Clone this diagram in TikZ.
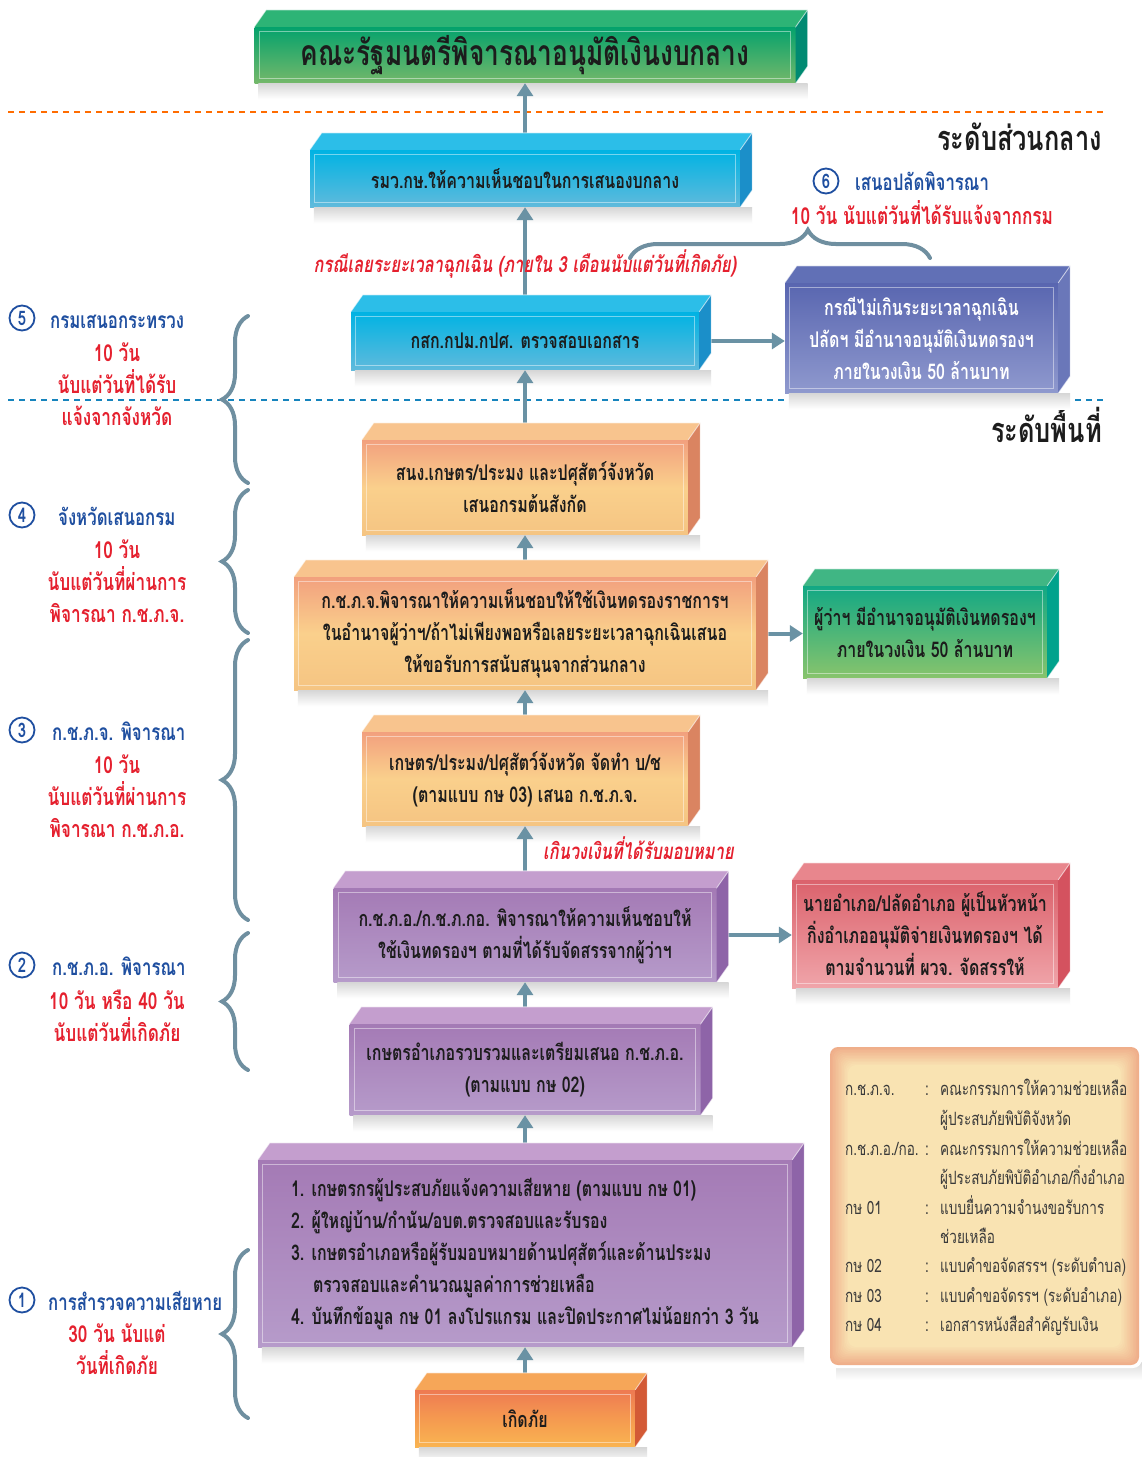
\documentclass[tikz,border=0pt]{standalone}
\usepackage{fontspec}
\newfontfamily\thai[Script=Thai,FakeStretch=0.74]{Loma}
\usetikzlibrary{arrows.meta,decorations.pathreplacing}
\definecolor{txtc}{HTML}{1C1C1C}
\definecolor{arrc}{HTML}{6A92A4}
\definecolor{bracec}{HTML}{6F8FA0}
\definecolor{bluec}{HTML}{1F4FA0}
\definecolor{redc}{HTML}{E5202E}
\definecolor{lgtxt}{HTML}{3A3A3A}
\definecolor{lgEdge}{HTML}{EFAE8A}
\definecolor{lgIn}{HTML}{F9E5B4}
% box colours
\definecolor{gA}{HTML}{04A26C}\definecolor{gB}{HTML}{74B86A}\definecolor{gT}{HTML}{2DB476}\definecolor{gS}{HTML}{008A72}
\definecolor{cA}{HTML}{00B3E3}\definecolor{cB}{HTML}{60BADC}\definecolor{cT}{HTML}{2CBEE8}\definecolor{cS}{HTML}{1B8FC9}
\definecolor{bA}{HTML}{5966B0}\definecolor{bB}{HTML}{8F99CE}\definecolor{bT}{HTML}{6170B6}\definecolor{bS}{HTML}{6A77B9}
\definecolor{oA}{HTML}{F2A07E}\definecolor{oM}{HTML}{FAD08C}\definecolor{oB}{HTML}{F5C482}\definecolor{oT}{HTML}{F8C48E}\definecolor{oS}{HTML}{DA8461}
\definecolor{hA}{HTML}{12A884}\definecolor{hB}{HTML}{88C46C}\definecolor{hT}{HTML}{40B684}\definecolor{hS}{HTML}{00A28C}
\definecolor{pA}{HTML}{A47AB5}\definecolor{pB}{HTML}{B69BCA}\definecolor{pT}{HTML}{C49ECE}\definecolor{pS}{HTML}{8E64A8}
\definecolor{rA}{HTML}{DB626C}\definecolor{rB}{HTML}{F0A5AA}\definecolor{rT}{HTML}{E8868D}\definecolor{rS}{HTML}{D4525F}
\definecolor{kA}{HTML}{EE7A52}\definecolor{kM}{HTML}{F59A50}\definecolor{kB}{HTML}{F9B451}\definecolor{kT}{HTML}{F6A658}\definecolor{kS}{HTML}{D35A36}
\newcommand\bxf{\thai\bfseries\fontsize{21.6}{32}\selectfont}
\newcommand\boxfaces[3]{%
  \fill[#2] (#1.north west) -- ++(12,-17) -- ([shift={(12,-17)}]#1.north east) -- (#1.north east) -- cycle;
  \fill[#3] (#1.north east) -- ([shift={(12,-17)}]#1.north east) -- ([shift={(12,-17)}]#1.south east) -- (#1.south east) -- cycle;
  \draw[white,opacity=.6,line width=.9pt] (#1.north west) -- ++(12,-17) -- ([shift={(12,-17)}]#1.north east) -- ([shift={(12,-17)}]#1.south east) -- (#1.south east);
  \draw[white,opacity=.6,line width=.9pt] (#1.north east) -- ([shift={(12,-17)}]#1.north east);
  \draw[white,opacity=.45,line width=1pt] ([shift={(5,5)}]#1.north west) rectangle ([shift={(-5,-5)}]#1.south east);
}
\newcommand\boxshadow[1]{%
  \shade[top color=black!16,bottom color=white] ([shift={(4,0)}]#1.south west) rectangle ([shift={(12,16)}]#1.south east);
}
\begin{document}
\begin{tikzpicture}[x=1pt,y=-1pt,
  bx/.style={inner sep=0pt, align=center, font=\bxf, text=txtc},
  arr/.style={draw=arrc, line width=4pt, -{Triangle[length=13pt,width=16pt]}},
  brc/.style={draw=bracec, line width=4pt, line cap=round, decorate, decoration={brace, amplitude=26pt}},
  circ/.style={circle, draw=bluec, line width=1.8pt, minimum size=25pt, inner sep=0pt, text=bluec, font=\thai\bfseries\fontsize{20}{20}\selectfont},
  blab/.style={anchor=base west, text=bluec, font=\thai\bfseries\fontsize{22.7}{24}\selectfont, inner sep=0pt},
  rlab/.style={anchor=base, text=redc, font=\thai\bfseries\fontsize{23.3}{24}\selectfont, inner sep=0pt},
  rnote/.style={anchor=base, text=redc, font=\thai\bfseries\itshape\fontsize{22.2}{24}\selectfont, inner sep=0pt},
  lg/.style={anchor=base west, text=lgtxt, font=\thai\fontsize{18.3}{20}\selectfont, inner sep=0pt},
  head/.style={anchor=base east, text=txtc, font=\thai\bfseries\fontsize{34.3}{36}\selectfont, inner sep=0pt}]
\useasboundingbox (0,0) rectangle (1142,1457);
\fill[white] (0,0) rectangle (1142,1457);

% separators
\draw[draw=orange!85!red, line width=2pt, dash pattern=on 6pt off 5pt] (8,112) -- (1105,112);
\draw[draw=bluec!70!cyan, line width=2pt, dash pattern=on 6pt off 5pt] (8,400) -- (1105,400);
\node[head] (lvl1) at (1102,150) {ระดับส่วนกลาง};
\node[head] (lvl2) at (1102,442) {ระดับพื้นที่};

% ---------- boxes (front faces)
\node[bx, minimum width=541pt, minimum height=56pt, top color=gA, bottom color=gB, font=\thai\bfseries\fontsize{35.5}{36}\selectfont] (green) at (525,55) {คณะรัฐมนตรีพิจารณาอนุมัติเงินงบกลาง};
\node[bx, minimum width=430pt, minimum height=57pt, top color=cA, bottom color=cB] (cyan1) at (525,178.5) {รมว.กษ.ให้ความเห็นชอบในการเสนองบกลาง};
\node[bx, minimum width=348pt, minimum height=58pt, top color=cA, bottom color=cB] (cyan2) at (525,341) {กสก.กปม.กปศ. ตรวจสอบเอกสาร};
\node[bx, minimum width=273pt, minimum height=110pt, top color=bA, bottom color=bB, text=white] (blue) at (921.5,338) {กรณีไม่เกินระยะเวลาฉุกเฉิน\\ปลัดฯ มีอำนาจอนุมัติเงินทดรองฯ\\ภายในวงเงิน 50 ล้านบาท};
\node[bx, minimum width=326pt, minimum height=95pt, top color=oA, bottom color=oB, middle color=oM] (ora1) at (525,487.5) {สนง.เกษตร/ประมง และปศุสัตว์จังหวัด\\เสนอกรมต้นสังกัด};
\node[bx, minimum width=462pt, minimum height=113pt, top color=oA, bottom color=oB, middle color=oM] (ora2) at (525,633.5) {ก.ช.ภ.จ.พิจารณาให้ความเห็นชอบให้ใช้เงินทดรองราชการฯ\\ในอำนาจผู้ว่าฯ/ถ้าไม่เพียงพอหรือเลยระยะเวลาฉุกเฉินเสนอ\\ให้ขอรับการสนับสนุนจากส่วนกลาง};
\node[bx, minimum width=244pt, minimum height=92pt, top color=hA, bottom color=hB] (green2) at (925,632) {ผู้ว่าฯ มีอำนาจอนุมัติเงินทดรองฯ\\ภายในวงเงิน 50 ล้านบาท};
\node[bx, minimum width=326pt, minimum height=94pt, top color=oA, bottom color=oB, middle color=oM] (ora3) at (525,779) {เกษตร/ประมง/ปศุสัตว์จังหวัด จัดทำ บ/ช\\(ตามแบบ กษ 03) เสนอ ก.ช.ภ.จ.};
\node[bx, minimum width=383pt, minimum height=94pt, top color=pA, bottom color=pB] (pur1) at (525,935) {ก.ช.ภ.อ./ก.ช.ภ.กอ. พิจารณาให้ความเห็นชอบให้\\ใช้เงินทดรองฯ ตามที่ได้รับจัดสรรจากผู้ว่าฯ};
\node[bx, minimum width=266pt, minimum height=108pt, top color=rA, bottom color=rB] (pink) at (925,934) {นายอำเภอ/ปลัดอำเภอ ผู้เป็นหัวหน้า\\กิ่งอำเภออนุมัติจ่ายเงินทดรองฯ ได้\\ตามจำนวนที่ ผวจ. จัดสรรให้};
\node[bx, minimum width=351pt, minimum height=91pt, top color=pA, bottom color=pB] (pur2) at (525,1069.5) {เกษตรอำเภอรวบรวมและเตรียมเสนอ ก.ช.ภ.อ.\\(ตามแบบ กษ 02)};
\node[bx, minimum width=534pt, minimum height=187pt, top color=pA, bottom color=pB, align=left] (pur3) at (525,1253.5) {1. เกษตรกรผู้ประสบภัยแจ้งความเสียหาย (ตามแบบ กษ 01)\\2. ผู้ใหญ่บ้าน/กำนัน/อบต.ตรวจสอบและรับรอง\\3. เกษตรอำเภอหรือผู้รับมอบหมายด้านปศุสัตว์และด้านประมง\\\hspace*{22pt}ตรวจสอบและคำนวณมูลค่าการช่วยเหลือ\\4. บันทึกข้อมูล กษ 01 ลงโปรแกรม และปิดประกาศไม่น้อยกว่า 3 วัน};
\node[bx, minimum width=220pt, minimum height=57pt, top color=kA, bottom color=kB, middle color=kM] (kerd) at (525,1418.5) {เกิดภัย};

% shadows
\foreach \b in {green,cyan1,cyan2,blue,ora1,ora2,green2,ora3,pur1,pink,pur2,pur3,kerd}{\boxshadow{\b}}

% arrows
\draw[arr] (cyan1.north) -- (green.south);
\draw[arr] (cyan2.north) -- (cyan1.south);
\draw[arr] (ora1.north) -- (cyan2.south);
\draw[arr] (ora2.north) -- (ora1.south);
\draw[arr] (ora3.north) -- (ora2.south);
\draw[arr] (pur1.north) -- (ora3.south);
\draw[arr] (pur2.north) -- (pur1.south);
\draw[arr] (pur3.north) -- (pur2.south);
\draw[arr] (kerd.north) -- (pur3.south);
\draw[arr] (cyan2.east) -- (cyan2.east -| blue.west);
\draw[arr] (ora2.east) -- (ora2.east -| green2.west);
\draw[arr] (pur1.east) -- (pur1.east -| pink.west);

% 3D faces
\boxfaces{green}{gT}{gS}
\boxfaces{cyan1}{cT}{cS}
\boxfaces{cyan2}{cT}{cS}
\boxfaces{blue}{bT}{bS}
\boxfaces{ora1}{oT}{oS}
\boxfaces{ora2}{oT}{oS}
\boxfaces{green2}{hT}{hS}
\boxfaces{ora3}{oT}{oS}
\boxfaces{pur1}{pT}{pS}
\boxfaces{pink}{rT}{rS}
\boxfaces{pur2}{pT}{pS}
\boxfaces{pur3}{pT}{pS}
\boxfaces{kerd}{kT}{kS}

% red notes on arrows
\node[rnote] (note1) at (525,272) {กรณีเลยระยะเวลาฉุกเฉิน (ภายใน 3 เดือนนับแต่วันที่เกิดภัย)};
\node[rnote, anchor=base west] (note2) at (543,859) {เกินวงเงินที่ได้รับมอบหมาย};

% step 6
\node[circ] (c6) at (826,181) {6};
\node[blab] (l6) at (855,190) {เสนอปลัดพิจารณา};
\node[rlab] (r6) at (922,224) {10 วัน นับแต่วันที่ได้รับแจ้งจากกรม};
\draw[brc, decoration={brace, amplitude=28pt, aspect=0.593}] (630,258) -- (930,258);

% left steps
\node[circ] (c5) at (22,318) {5};
\node[blab] (l5) at (50,328) {กรมเสนอกระทรวง};
\node[rlab] (r5a) at (117,361) {10 วัน};
\node[rlab] (r5b) at (117,393) {นับแต่วันที่ได้รับ};
\node[rlab] (r5c) at (117,425) {แจ้งจากจังหวัด};
\draw[brc] (248,483) -- (248,316);

\node[circ] (c4) at (22,515) {4};
\node[blab] (l4) at (58,525) {จังหวัดเสนอกรม};
\node[rlab] (r4a) at (117,558) {10 วัน};
\node[rlab] (r4b) at (117,590) {นับแต่วันที่ผ่านการ};
\node[rlab] (r4c) at (117,622) {พิจารณา ก.ช.ภ.จ.};
\draw[brc] (248,633) -- (248,490);

\node[circ] (c3) at (22,730) {3};
\node[blab] (l3) at (52,740) {ก.ช.ภ.จ. พิจารณา};
\node[rlab] (r3a) at (117,773) {10 วัน};
\node[rlab] (r3b) at (117,805) {นับแต่วันที่ผ่านการ};
\node[rlab] (r3c) at (117,837) {พิจารณา ก.ช.ภ.อ.};
\draw[brc] (248,920) -- (248,640);

\node[circ] (c2) at (22,965) {2};
\node[blab] (l2) at (52,975) {ก.ช.ภ.อ. พิจารณา};
\node[rlab] (r2a) at (117,1009) {10 วัน หรือ 40 วัน};
\node[rlab] (r2b) at (117,1041) {นับแต่วันที่เกิดภัย};
\draw[brc] (248,1070) -- (248,933);

\node[circ] (c1) at (22,1300) {1};
\node[blab] (l1) at (48,1310) {การสำรวจความเสียหาย};
\node[rlab] (r1a) at (117,1342) {30 วัน นับแต่};
\node[rlab] (r1b) at (117,1374) {วันที่เกิดภัย};
\draw[brc] (248,1418) -- (248,1250);

% legend panel
\shade[top color=black!14,bottom color=white] (836,1362) rectangle (1142,1380);
\fill[white, rounded corners=9pt] (827,1044) rectangle (1142,1368);
\foreach \i in {0,...,12}{%
  \pgfmathtruncatemacro\p{100-8*\i}
  \fill[lgEdge!\p!lgIn, rounded corners=8pt] ({830+1.5*\i},{1047+1.5*\i}) rectangle ({1139-1.5*\i},{1365-1.5*\i});
}
\node[lg] (g1a) at (845,1095) {ก.ช.ภ.จ.};
\node[lg] (g1b) at (925,1095) {:};
\node[lg] (g1c) at (940,1095) {คณะกรรมการให้ความช่วยเหลือ};
\node[lg] (g1d) at (940,1125) {ผู้ประสบภัยพิบัติจังหวัด};
\node[lg] (g2a) at (845,1155) {ก.ช.ภ.อ./กอ.};
\node[lg] (g2b) at (925,1155) {:};
\node[lg] (g2c) at (940,1155) {คณะกรรมการให้ความช่วยเหลือ};
\node[lg] (g2d) at (940,1184) {ผู้ประสบภัยพิบัติอำเภอ/กิ่งอำเภอ};
\node[lg] (g3a) at (845,1214) {กษ 01};
\node[lg] (g3b) at (925,1214) {:};
\node[lg] (g3c) at (940,1214) {แบบยื่นความจำนงขอรับการ};
\node[lg] (g3d) at (940,1243) {ช่วยเหลือ};
\node[lg] (g4a) at (845,1272) {กษ 02};
\node[lg] (g4b) at (925,1272) {:};
\node[lg] (g4c) at (940,1272) {แบบคำขอจัดสรรฯ (ระดับตำบล)};
\node[lg] (g5a) at (845,1302) {กษ 03};
\node[lg] (g5b) at (925,1302) {:};
\node[lg] (g5c) at (940,1302) {แบบคำขอจัดรรฯ (ระดับอำเภอ)};
\node[lg] (g6a) at (845,1331) {กษ 04};
\node[lg] (g6b) at (925,1331) {:};
\node[lg] (g6c) at (940,1331) {เอกสารหนังสือสำคัญรับเงิน};
\end{tikzpicture}
\end{document}
